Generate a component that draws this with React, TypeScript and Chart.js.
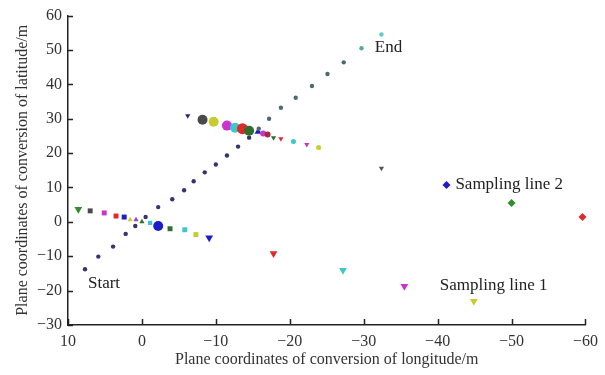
import React, { useEffect, useRef } from 'react';
import { Chart, registerables } from 'chart.js';

Chart.register(...registerables);

// ---- data ----
const xTickValues = [10, 0, -10, -20, -30, -40, -50, -60];
const yTickValues = [-30, -20, -10, 0, 10, 20, 30, 40, 50, 60];

// trajectory (Start -> End)
const trackX = [7.7, 5.9, 3.9, 2.2, 0.9, -0.5, -2.2, -4.1, -5.7, -7.0, -8.5, -10.0, -11.5, -13.0, -14.5, -15.8, -17.2, -18.8, -20.8, -23.0, -25.1, -27.3, -29.7, -32.4];
const trackY = [-13.8, -10.1, -7.2, -3.5, -1.2, 1.4, 4.3, 6.6, 9.2, 11.8, 14.4, 16.7, 19.3, 21.9, 24.5, 27.1, 30.0, 33.2, 36.1, 39.5, 43.0, 46.4, 50.5, 54.5];

// cluster near the start
const lowerX = [8.6, 7.0, 5.1, 3.5, 2.4, 1.6, 0.8, 0.0, -1.1, -2.2, -3.8, -5.8, -7.3, -9.1];
const lowerY = [3.7, 3.2, 2.6, 1.7, 1.4, 0.6, 0.6, 0.0, -0.3, -1.2, -2.0, -2.3, -3.7, -4.6];

// cluster on the upper part of the track
const upperX = [-6.2, -8.2, -9.7, -11.5, -12.6, -13.6, -14.5, -15.7, -16.4, -17.0, -17.8, -18.8, -20.5, -22.3, -23.9];
const upperY = [30.9, 29.7, 29.1, 28.0, 27.4, 27.1, 26.5, 26.2, 25.7, 25.4, 24.5, 24.2, 23.4, 22.5, 21.6];

// sampling line 1 (triangles)
const sample1X = [-17.8, -27.2, -35.5, -44.9];
const sample1Y = [-9.2, -14.1, -18.7, -23.1];

// sampling line 2 (diamonds + small grey triangle)
const sample2X = [-32.4, -41.2, -50.0, -59.6];
const sample2Y = [15.6, 10.7, 5.5, 1.4];

const annotationTexts = ['End', 'Start', 'Sampling line 2', 'Sampling line 1'];
const annotationX = [-31.5, 7.3, -42.4, -40.3];
const annotationY = [50.8, -17.9, 11.0, -18.5];

// ---- styles ----
const C = {
  green: '#2f8f2f', dgray: '#4a4a4a', magenta: '#cc33cc', red: '#dd2a2a', blue: '#1c1cc8',
  yellow: '#c9cc30', purple: '#9a40c8', dgreen: '#2e6e2e', cyan: '#3cc8c8', navy: '#26266e', dred: '#a02a40',
};
const trackColors = trackX.map((_, i) => (i < 15 ? '#34346e' : i < 22 ? '#4f6872' : i === 22 ? '#52a8a8' : '#5fcaca'));
const lowerColors = [C.green, C.dgray, C.magenta, C.red, C.blue, C.yellow, C.purple, C.dgreen, C.cyan, C.blue, C.dgreen, C.cyan, C.yellow, C.blue];
const lowerShapes = ['triangle', 'rect', 'rect', 'rect', 'rect', 'triangle', 'triangle', 'triangle', 'rect', 'circle', 'rect', 'rect', 'rect', 'triangle'];
const lowerRadius = [4.5, 3.5, 3.5, 3.5, 3.5, 3, 3, 3, 3, 5, 3.5, 3.5, 3.5, 4.5];
const lowerRot = [180, 0, 0, 0, 0, 0, 0, 0, 0, 0, 0, 0, 0, 180];
const upperColors = [C.navy, C.dgray, C.yellow, C.magenta, C.cyan, C.red, C.dgreen, C.blue, C.magenta, C.dred, C.dgreen, C.red, C.cyan, C.magenta, C.yellow];
const upperShapes = ['triangle', 'circle', 'circle', 'circle', 'circle', 'circle', 'circle', 'triangle', 'circle', 'circle', 'triangle', 'triangle', 'circle', 'triangle', 'circle'];
const upperRadius = [3, 5, 5, 5, 5, 5.5, 5, 4, 3, 3, 3, 3, 2.5, 3, 2.5];
const upperRot = [180, 0, 0, 0, 0, 0, 0, 0, 0, 0, 180, 180, 0, 180, 0];
const sample1Colors = [C.red, C.cyan, C.magenta, C.yellow];
const sample2Colors = ['#555555', C.blue, C.green, C.red];
const sample2Shapes = ['triangle', 'rectRot', 'rectRot', 'rectRot'];
const sample2Radius = [3, 4, 4, 4];
const sample2Rot = [180, 0, 0, 0];

const FONT = "'Liberation Serif', 'Times New Roman', serif";
const minus = (v: number) => String(v).replace('-', '\u2212');

const pts = (xs: number[], ys: number[]) => xs.map((x, i) => ({ x, y: ys[i] }));

const inwardTicks = {
  id: 'inwardTicks',
  afterDraw(chart: any) {
    const { ctx, chartArea, scales } = chart;
    ctx.save();
    ctx.strokeStyle = '#222';
    ctx.lineWidth = 1.5;
    ctx.beginPath();
    yTickValues.forEach((v) => {
      const p = Math.round(scales.y.getPixelForValue(v)) + 0.5;
      ctx.moveTo(chartArea.left, p);
      ctx.lineTo(chartArea.left + 5, p);
    });
    xTickValues.forEach((v) => {
      const p = Math.round(scales.x.getPixelForValue(v)) + 0.5;
      ctx.moveTo(p, chartArea.bottom);
      ctx.lineTo(p, chartArea.bottom - 6);
    });
    ctx.stroke();
    ctx.restore();
  },
};

const annotations = {
  id: 'annotations',
  afterDatasetsDraw(chart: any) {
    const { ctx, scales } = chart;
    ctx.save();
    ctx.font = `17px ${FONT}`;
    ctx.fillStyle = '#222';
    ctx.textAlign = 'left';
    ctx.textBaseline = 'middle';
    annotationTexts.forEach((t, i) => {
      ctx.fillText(t, scales.x.getPixelForValue(annotationX[i]), scales.y.getPixelForValue(annotationY[i]));
    });
    ctx.restore();
  },
};

export default function App() {
  const ref = useRef<HTMLCanvasElement | null>(null);
  useEffect(() => {
    if (!ref.current) return;
    const chart = new Chart(ref.current, {
      type: 'scatter',
      data: {
        datasets: [
          {
            data: pts(trackX, trackY),
            pointStyle: 'circle',
            pointRadius: 2.2,
            pointBackgroundColor: trackColors,
            pointBorderColor: trackColors,
            pointBorderWidth: 0,
            clip: false,
          },
          {
            data: pts(lowerX, lowerY),
            pointStyle: lowerShapes as any,
            pointRadius: lowerRadius,
            pointRotation: lowerRot,
            pointBackgroundColor: lowerColors,
            pointBorderColor: lowerColors,
            pointBorderWidth: 0,
            clip: false,
          },
          {
            data: pts(upperX, upperY),
            pointStyle: upperShapes as any,
            pointRadius: upperRadius,
            pointRotation: upperRot,
            pointBackgroundColor: upperColors,
            pointBorderColor: upperColors,
            pointBorderWidth: 0,
            clip: false,
          },
          {
            data: pts(sample1X, sample1Y),
            pointStyle: 'triangle',
            pointRadius: 4.5,
            pointRotation: 180,
            pointBackgroundColor: sample1Colors,
            pointBorderColor: sample1Colors,
            pointBorderWidth: 0,
            clip: false,
          },
          {
            data: pts(sample2X, sample2Y),
            pointStyle: sample2Shapes as any,
            pointRadius: sample2Radius,
            pointRotation: sample2Rot,
            pointBackgroundColor: sample2Colors,
            pointBorderColor: sample2Colors,
            pointBorderWidth: 0,
            clip: false,
          },
        ],
      },
      options: {
        animation: false,
        responsive: false,
        maintainAspectRatio: false,
        layout: { padding: { left: 0, right: 19, top: 13, bottom: 0 } },
        plugins: { legend: { display: false }, tooltip: { enabled: false } },
        scales: {
          x: {
            type: 'linear',
            reverse: true,
            min: -60,
            max: 10,
            afterFit: (s: any) => { s.height = 50; },
            afterBuildTicks: (s: any) => { s.ticks = xTickValues.map((v) => ({ value: v })); },
            grid: { display: false, drawTicks: false },
            border: { display: true, color: '#222', width: 1.5 },
            ticks: {
              padding: 7,
              color: '#333',
              font: { family: FONT, size: 16 },
              maxRotation: 0,
              callback: (v: any) => minus(Number(v)),
            },
            title: {
              display: true,
              text: 'Plane coordinates of conversion of longitude/m',
              color: '#333',
              font: { family: FONT, size: 16 },
              padding: { top: 0, bottom: 6 },
            },
          },
          y: {
            type: 'linear',
            min: -30,
            max: 60,
            afterFit: (s: any) => { s.width = 68; },
            afterBuildTicks: (s: any) => { s.ticks = yTickValues.map((v) => ({ value: v })); },
            grid: { display: false, drawTicks: false },
            border: { display: true, color: '#222', width: 1.5 },
            ticks: {
              padding: 6,
              color: '#333',
              font: { family: FONT, size: 16 },
              callback: (v: any) => minus(Number(v)),
            },
            title: {
              display: true,
              text: 'Plane coordinates of conversion of latitude/m',
              color: '#333',
              font: { family: FONT, size: 16 },
              padding: { top: 13, bottom: 0 },
            },
          },
        },
      },
      plugins: [inwardTicks, annotations],
    });
    return () => chart.destroy();
  }, []);

  return (
    <div style={{ position: 'absolute', left: 0, top: 0, width: 605, height: 375, background: '#fff' }}>
      <canvas ref={ref} width={605} height={375} />
    </div>
  );
}
